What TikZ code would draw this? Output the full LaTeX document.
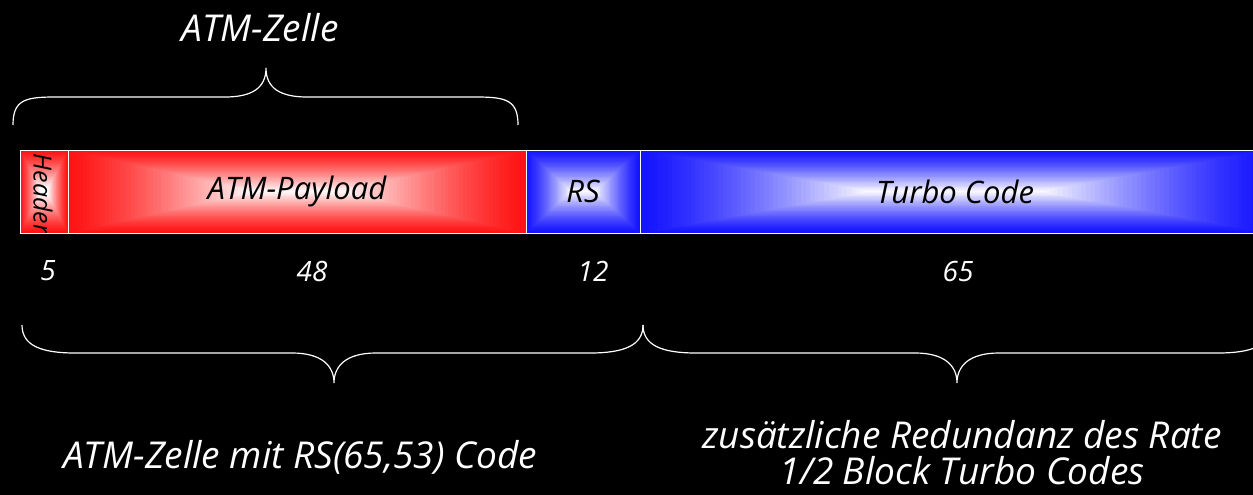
\documentclass[tikz,border=0pt]{standalone}
\usepackage{fontspec}
\setmainfont{Open Sans}
\definecolor{cred}{RGB}{255,20,20}
\definecolor{cblue}{RGB}{20,20,255}
\newcommand\shadebox[7]{%
  \foreach \i in {0,...,50}{%
    \pgfmathsetmacro\pc{100*(1-(\i/50)^1.3)}%
    \pgfmathsetmacro\ax{#1+#6*\i/50}%
    \pgfmathsetmacro\bx{#3-#6*\i/50}%
    \pgfmathsetmacro\ay{#2+#7*\i/50}%
    \pgfmathsetmacro\by{#4-#7*\i/50}%
    \fill[#5!\pc!white] (\ax,\ay) rectangle (\bx,\by);
  }}
\tikzset{
  seg/.style={draw=white, line width=1pt, inner sep=0pt, minimum height=83pt,
     font=\itshape\fontsize{31}{34}\selectfont, text=black},
  lbl/.style={text=white, font=\itshape\fontsize{37}{36}\selectfont, inner sep=0pt, align=center},
  num/.style={text=white, font=\itshape\fontsize{28}{30}\selectfont, inner sep=0pt},
  brace/.style={draw=white, line width=1.2pt}
}
\begin{document}
\begin{tikzpicture}[x=1pt,y=-1pt]
\fill[black] (0,0) rectangle (1253,495);
\useasboundingbox (0,0) rectangle (1253,495);
% shadings
\shadebox{20}{150}{68}{233}{cred}{20}{38}
\shadebox{68}{150}{526}{233}{cred}{185}{41.5}
\shadebox{526}{150}{640}{233}{cblue}{45}{41.5}
\shadebox{640}{150}{1270}{233}{cblue}{230}{41.5}
% segments
\begin{scope}
\clip (20,150) rectangle (68,233);
\node[rotate=-90, inner sep=0pt, text=black, font=\itshape\fontsize{25}{28}\selectfont] (hdrtxt) at (43,194) {Header};
\end{scope}
\node[seg, minimum width=48pt] (hdr) at (44,191.5) {};
\node[seg, minimum width=458pt] (pay) at (297,191.5) {ATM-Payload};
\node[seg, minimum width=114pt] (rs) at (583,191.5) {RS};
\node[seg, minimum width=630pt] (turbo) at (955,191.5) {Turbo Code};
% numbers
\node[num] (n5) at (48,271) {5};
\node[num] (n48) at (312,271) {48};
\node[num] (n12) at (593,271) {12};
\node[num] (n65) at (958,271) {65};
% top brace
\coordinate (ta) at (13,125);
\coordinate (tb) at (518,125);
\coordinate (tt) at (266,68);
\draw[brace] (ta) .. controls (13,100) and (25,97) .. (55,97) -- (225,97)
   .. controls (252,97) and (266,88) .. (tt)
   .. controls (266,88) and (280,97) .. (307,97) -- (476,97)
   .. controls (506,97) and (518,100) .. (tb);
\node[lbl] (atm) at (260,28) {ATM-Zelle};
% bottom left brace
\coordinate (la) at (22,325);
\coordinate (lb) at (643,325);
\coordinate (lt) at (334,383);
\draw[brace] (la) .. controls (22,345) and (40,353) .. (75,353) -- (292,353)
   .. controls (322,353) and (334,366) .. (lt)
   .. controls (334,366) and (346,353) .. (376,353) -- (590,353)
   .. controls (625,353) and (643,345) .. (lb);
% bottom right brace
\coordinate (rb) at (1271,325);
\coordinate (rt) at (957,383);
\draw[brace] (lb) .. controls (643,345) and (661,353) .. (696,353) -- (915,353)
   .. controls (945,353) and (957,366) .. (rt)
   .. controls (957,366) and (969,353) .. (999,353) -- (1218,353)
   .. controls (1253,353) and (1271,345) .. (rb);
\node[lbl] (l1) at (300,457) {ATM-Zelle mit RS(65,53) Code};
\node[lbl] (l2) at (962,453) {zusätzliche Redundanz des Rate\\1/2 Block Turbo Codes};
\end{tikzpicture}
\end{document}
